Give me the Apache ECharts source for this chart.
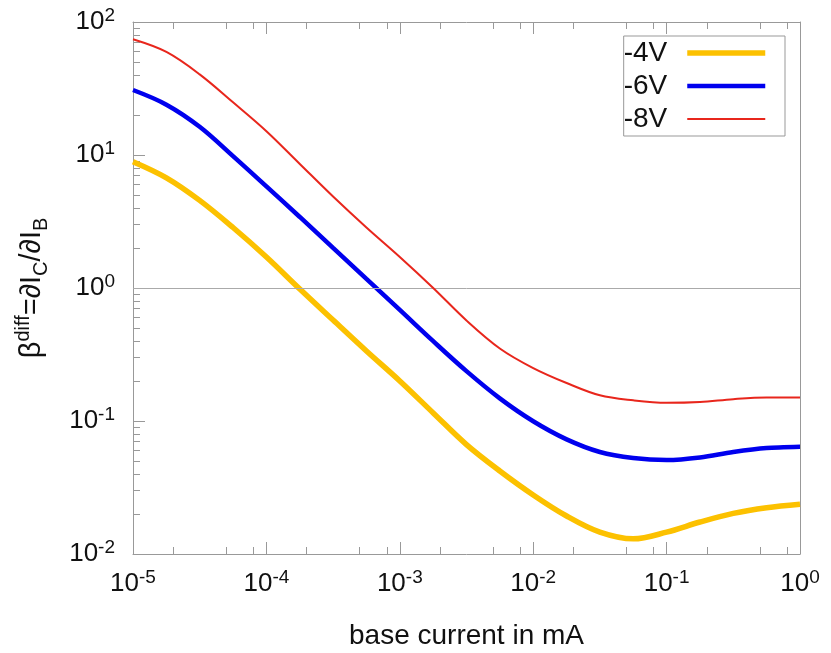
<!DOCTYPE html>
<html>
<head>
<meta charset="utf-8">
<script src="https://cdn.jsdelivr.net/npm/echarts@6/dist/echarts.min.js"></script>
<style>
html, body { margin: 0; padding: 0; background: #fff; }
#myChart { width: 831px; height: 653px; }
</style>
</head>
<body>
<div id="myChart"></div>
<script>
// base current in mA
let baseCurrent = [1e-5, 1.78e-5, 3.16e-5, 5.62e-5, 1e-4, 1.78e-4, 3.16e-4, 5.62e-4, 1e-3, 1.78e-3, 3.16e-3, 5.62e-3, 1e-2, 1.78e-2, 3.16e-2, 5.62e-2, 0.1, 0.178, 0.316, 0.562, 1]
// differential current gain per collector voltage
let beta4V = [8.91, 6.74, 4.56, 2.85, 1.71, 0.982, 0.574, 0.336, 0.200, 0.115, 0.0665, 0.0421, 0.0278, 0.0193, 0.0146, 0.0130, 0.0146, 0.0174, 0.0202, 0.0223, 0.0237]
let beta6V = [30.8, 23.9, 16.3, 9.81, 5.81, 3.42, 2.00, 1.17, 0.684, 0.398, 0.237, 0.148, 0.0996, 0.0728, 0.0585, 0.0527, 0.0509, 0.0532, 0.0585, 0.0627, 0.0641]
let beta8V = [74.1, 59.5, 40.4, 24.9, 15.1, 8.56, 4.87, 2.85, 1.71, 1.00, 0.570, 0.351, 0.250, 0.193, 0.156, 0.143, 0.137, 0.139, 0.146, 0.150, 0.150]
let seriesNames = ['-4V', '-6V', '-8V']

// tick values
let xMajorTicks = [1e-5, 1e-4, 1e-3, 1e-2, 1e-1, 1]
let xMinorTicks = [2e-5, 5e-5, 8e-5, 2e-4, 5e-4, 8e-4, 2e-3, 5e-3, 8e-3, 2e-2, 5e-2, 8e-2, 0.2, 0.5, 0.8]
let yMajorTicks = [0.01, 0.1, 1, 10, 100]
let yMinorTicks = [0.02, 0.03, 0.04, 0.05, 0.06, 0.07, 0.08, 0.09,
    0.2, 0.3, 0.4, 0.5, 0.6, 0.7, 0.8, 0.9,
    2, 3, 4, 5, 6, 7, 8, 9,
    20, 30, 40, 50, 60, 70, 80, 90]

let myChart = echarts.init(document.getElementById('myChart'))

const font = "'Liberation Sans', Arial, sans-serif"
const frameColor = '#999'

const powRich = {
    b: { fontSize: 26, lineHeight: 32, color: '#111', fontFamily: font },
    s: { fontSize: 19, verticalAlign: 'top', color: '#111', fontFamily: font }
}
const powLabel = v => '{b|10}{s|' + Math.round(Math.log10(v)) + '}'

// helper for a log axis that only draws ticks
function tickAxis(kind, pos, ticks, len, min, max, showLine, showLabel) {
    let ax = {
        type: 'log',
        logBase: 10,
        min: min,
        max: max,
        position: pos,
        gridIndex: 0,
        axisLine: { show: showLine, onZero: false, lineStyle: { color: frameColor, width: 1 } },
        axisTick: { show: ticks.length > 0, inside: true, length: len, customValues: ticks, lineStyle: { color: frameColor } },
        axisLabel: { show: false },
        splitLine: { show: false },
        minorTick: { show: false }
    }
    if (showLabel) {
        ax.axisLabel = {
            show: true,
            customValues: ticks,
            formatter: powLabel,
            rich: powRich,
            margin: kind === 'x' ? 14 : 18
        }
    }
    return ax
}

let xBottom = tickAxis('x', 'bottom', xMajorTicks, 12, 1e-5, 1, true, true)
xBottom.name = 'base current in mA'
xBottom.nameLocation = 'middle'
xBottom.nameGap = 68
xBottom.nameTextStyle = { fontSize: 28, color: '#111', fontFamily: font }

let yLeft = tickAxis('y', 'left', yMajorTicks, 12, 0.01, 100, true, true)
yLeft.name = '{n|β}{sup|diff}{n|=∂I}{sub|C}{n|/∂I}{sub|B}'
yLeft.nameLocation = 'middle'
yLeft.nameGap = 82
yLeft.nameTextStyle = {
    color: '#111',
    fontFamily: font,
    rich: {
        n: { fontSize: 29, lineHeight: 38, color: '#111', fontFamily: font },
        sup: { fontSize: 20, verticalAlign: 'top', color: '#111', fontFamily: font },
        sub: { fontSize: 20, verticalAlign: 'bottom', color: '#111', fontFamily: font }
    }
}

let lineColors = ['#fcc100', '#0000ee', '#e8261c']
let lineWidths = [5.5, 4.5, 2]
let lineData = [beta4V, beta6V, beta8V]

let series = lineData.map((vals, i) => ({
    name: seriesNames[i],
    type: 'line',
    data: baseCurrent.map((x, j) => [x, vals[j]]),
    symbol: 'none',
    smooth: 0.35,
    z: 3 + i,
    lineStyle: { color: lineColors[i], width: lineWidths[i] },
    itemStyle: { color: lineColors[i] }
}))
// thin reference line at beta = 1
series[0].markLine = {
    silent: true,
    symbol: 'none',
    label: { show: false },
    lineStyle: { color: '#aaa', width: 1, type: 'solid' },
    data: [{ yAxis: 1 }]
}

let option = {
    animation: false,
    backgroundColor: '#fff',
    textStyle: { fontFamily: font },
    grid: { left: 133, right: 31, top: 22, bottom: 99, containLabel: false, outerBoundsMode: 'none' },
    legend: {
        orient: 'vertical',
        right: 46,
        top: 36,
        align: 'right',
        itemWidth: 78,
        itemHeight: 14,
        itemGap: 5,
        padding: [3, 17, 3, 0],
        borderColor: '#999',
        borderWidth: 1,
        borderRadius: 0,
        backgroundColor: '#fff',
        itemStyle: { opacity: 0 },
        data: seriesNames.map((n, i) => ({
            name: n,
            lineStyle: { color: lineColors[i], width: lineWidths[i] }
        })),
        textStyle: { fontSize: 28, lineHeight: 28, color: '#111', fontFamily: font, padding: [0, 15, 0, 0] }
    },
    xAxis: [
        xBottom,
        tickAxis('x', 'bottom', xMinorTicks, 7, 1e-5, 1, false, false),
        tickAxis('x', 'top', xMajorTicks, 12, 1e-5, 1, true, false),
        tickAxis('x', 'top', xMinorTicks, 7, 1e-5, 1, false, false)
    ],
    yAxis: [
        yLeft,
        tickAxis('y', 'left', yMinorTicks, 7, 0.01, 100, false, false),
        tickAxis('y', 'right', [], 0, 0.01, 100, true, false)
    ],
    series: series
}
myChart.setOption(option)

window.addEventListener('resize', () => {
    myChart.resize()
})
</script>
</body>
</html>
